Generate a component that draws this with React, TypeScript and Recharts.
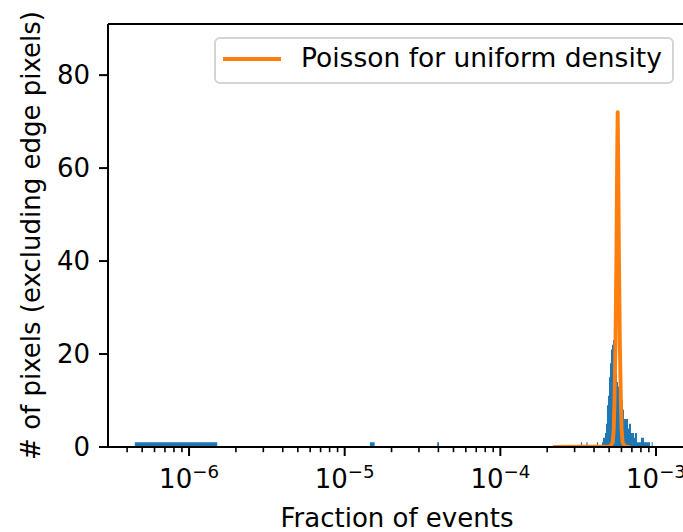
import React from 'react';
import { ComposedChart, Area, Line, XAxis, YAxis, Legend, ReferenceLine, Label } from 'recharts';

// Histogram bins (fraction of events) and pixel counts
const histLeft = [
  4.484e-7, 1.452e-5, 3.930e-5, 3.29e-4, 3.570e-4, 4.170e-4,
  4.498e-4, 4.565e-4, 4.633e-4, 4.702e-4, 4.772e-4, 4.843e-4, 4.915e-4, 4.989e-4, 5.063e-4, 5.138e-4,
  5.215e-4, 5.293e-4, 5.372e-4, 5.452e-4, 5.533e-4, 5.616e-4, 5.699e-4, 5.784e-4, 5.870e-4, 5.958e-4,
  6.047e-4, 6.137e-4, 6.228e-4, 6.608e-4, 6.707e-4, 6.807e-4, 6.908e-4, 7.011e-4, 7.222e-4, 7.329e-4,
  7.550e-4, 7.776e-4, 8.010e-4, 8.373e-4, 9.016e-4, 9.384e-4,
];
const histRight = [
  1.518e-6, 1.557e-5, 4.037e-5, 3.35e-4, 3.634e-4, 4.246e-4,
  4.565e-4, 4.633e-4, 4.702e-4, 4.772e-4, 4.843e-4, 4.915e-4, 4.989e-4, 5.063e-4, 5.138e-4, 5.215e-4,
  5.293e-4, 5.372e-4, 5.452e-4, 5.533e-4, 5.616e-4, 5.699e-4, 5.784e-4, 5.870e-4, 5.958e-4, 6.047e-4,
  6.137e-4, 6.228e-4, 6.608e-4, 6.707e-4, 6.807e-4, 6.908e-4, 7.011e-4, 7.222e-4, 7.329e-4, 7.550e-4,
  7.776e-4, 8.010e-4, 8.373e-4, 9.016e-4, 9.150e-4, 9.523e-4,
];
const histCount = [
  1, 1, 1, 1, 1, 1,
  1, 2, 2, 3, 5, 9, 11, 15, 18, 21, 22, 23, 21, 18, 16, 14, 13, 12, 11, 10, 10, 8,
  6, 4, 5, 5, 3, 3, 2, 3, 1, 1, 2, 1, 1,
  1,
];

// Poisson curve for uniform density
const poissonX = [
  2.243e-4, 5.063e-4, 5.277e-4, 5.355e-4, 5.411e-4, 5.492e-4, 5.573e-4, 5.631e-4, 5.674e-4,
  5.716e-4, 5.776e-4, 5.861e-4, 5.948e-4, 6.010e-4, 6.100e-4, 6.322e-4, 6.637e-4,
];
const poissonY = [0, 0.1, 1, 4, 10, 22, 42, 62, 72, 62, 42, 22, 10, 4, 1, 0.1, 0];

const xMajorTicks = [1e-6, 1e-5, 1e-4, 1e-3];
const xMajorExponents = [-6, -5, -4, -3];
const xMinorDecades = [-7, -6, -5, -4, -3];
const xMinorMultipliers = [2, 3, 4, 5, 6, 7, 8, 9];
const yTicks = [0, 20, 40, 60, 80];

const X_MIN = 3.015e-7;
const X_MAX = 1.654e-3;
const Y_MAX = 91;

const FONT = "'DejaVu Sans', sans-serif";
const BLUE = '#1f77b4';
const ORANGE = '#ff7f0e';

// step data for the histogram
const histSteps: { x: number; y: number }[] = [];
for (let i = 0; i < histLeft.length; i++) {
  histSteps.push({ x: histLeft[i], y: histCount[i] });
  const nextLeft = i + 1 < histLeft.length ? histLeft[i + 1] : null;
  if (nextLeft === null || nextLeft !== histRight[i]) {
    histSteps.push({ x: histRight[i], y: 0 });
  }
}

const poissonData = poissonX.map((x, i) => ({ x, y: poissonY[i] }));

const minorTicks: number[] = [];
xMinorDecades.forEach((e) => {
  xMinorMultipliers.forEach((m) => {
    const v = m * Math.pow(10, e);
    if (v >= X_MIN && v <= X_MAX) minorTicks.push(v);
  });
});
const allXTicks = [...xMajorTicks, ...minorTicks].sort((a, b) => a - b);

const XTick = (props: any) => {
  const { x, y, payload } = props;
  const v = payload.value;
  const idx = xMajorTicks.findIndex((t) => Math.abs(t - v) / t < 1e-6);
  if (idx < 0) {
    return <line x1={x} x2={x} y1={y} y2={y + 5.2} stroke="#000" strokeWidth={1.6} />;
  }
  return (
    <g>
      <line x1={x} x2={x} y1={y} y2={y + 9} stroke="#000" strokeWidth={2} />
      <text x={x} y={y + 41} textAnchor="middle" fontFamily={FONT} fontSize={26} fill="#000">
        10
        <tspan dy={-10} fontSize={18.2}>
          {'\u2212' + Math.abs(xMajorExponents[idx])}
        </tspan>
      </text>
    </g>
  );
};

const LegendBox = () => (
  <svg width={460} height={47} style={{ display: 'block' }}>
    <rect x={1} y={1} width={458} height={45} rx={5} ry={5} fill="#fff" fillOpacity={0.8} stroke="#d4d4d4" strokeWidth={2} />
    <line x1={9} x2={67} y1={22} y2={22} stroke={ORANGE} strokeWidth={3.9} />
    <text x={87} y={30.3} fontFamily={FONT} fontSize={26.5} fill="#000">
      Poisson for uniform density
    </text>
  </svg>
);

export default function App() {
  return (
    <div style={{ position: 'absolute', left: 0, top: 0, width: 683, height: 532, overflow: 'hidden', background: '#fff' }}>
      <ComposedChart width={720} height={532} margin={{ top: 24, right: 30, bottom: 0, left: 8 }}>
        <XAxis
          dataKey="x"
          type="number"
          scale="log"
          domain={[X_MIN, X_MAX]}
          allowDataOverflow
          ticks={allXTicks}
          interval={0}
          tick={<XTick />}
          tickLine={false}
          tickSize={0}
          tickMargin={0}
          height={85}
          axisLine={{ stroke: '#000', strokeWidth: 2 }}
        >
          <Label
            content={(p: any) => {
              const vb = p.viewBox || { x: 108, y: 447, width: 582, height: 85 };
              return (
                <text x={vb.x + vb.width / 2 - 2} y={vb.y + 80} textAnchor="middle" fontFamily={FONT} fontSize={26} fill="#000">
                  Fraction of events
                </text>
              );
            }}
          />
        </XAxis>
        <YAxis
          type="number"
          domain={[0, Y_MAX]}
          allowDataOverflow
          ticks={yTicks}
          interval={0}
          width={100}
          tickSize={9}
          tickMargin={9}
          tickLine={{ stroke: '#000', strokeWidth: 2 }}
          axisLine={{ stroke: '#000', strokeWidth: 2 }}
          tick={{ fill: '#000', fontSize: 26, fontFamily: FONT }}
        >
          <Label
            content={(p: any) => {
              const vb = p.viewBox || { x: 8, y: 24, width: 100, height: 423 };
              const cx = vb.x + 32;
              const cy = vb.y + vb.height / 2;
              return (
                <text x={cx} y={cy} transform={`rotate(-90 ${cx} ${cy})`} textAnchor="middle" fontFamily={FONT} fontSize={26} fill="#000">
                  # of pixels (excluding edge pixels)
                </text>
              );
            }}
          />
        </YAxis>
        <Area
          data={histSteps}
          dataKey="y"
          type="stepAfter"
          fill={BLUE}
          fillOpacity={1}
          stroke="none"
          isAnimationActive={false}
          dot={false}
          activeDot={false}
        />
        <Line
          data={poissonData}
          dataKey="y"
          type="linear"
          stroke={ORANGE}
          strokeWidth={3.9}
          strokeLinejoin="round"
          strokeLinecap="square"
          dot={false}
          activeDot={false}
          isAnimationActive={false}
        />
        <ReferenceLine y={Y_MAX} stroke="#000" strokeWidth={2} />
        <ReferenceLine x={X_MAX} stroke="#000" strokeWidth={2} />
        <Legend
          layout="horizontal"
          verticalAlign="middle"
          align="center"
          content={() => <LegendBox />}
          wrapperStyle={{ left: 214, top: 37, width: 460, height: 47 }}
        />
      </ComposedChart>
    </div>
  );
}
